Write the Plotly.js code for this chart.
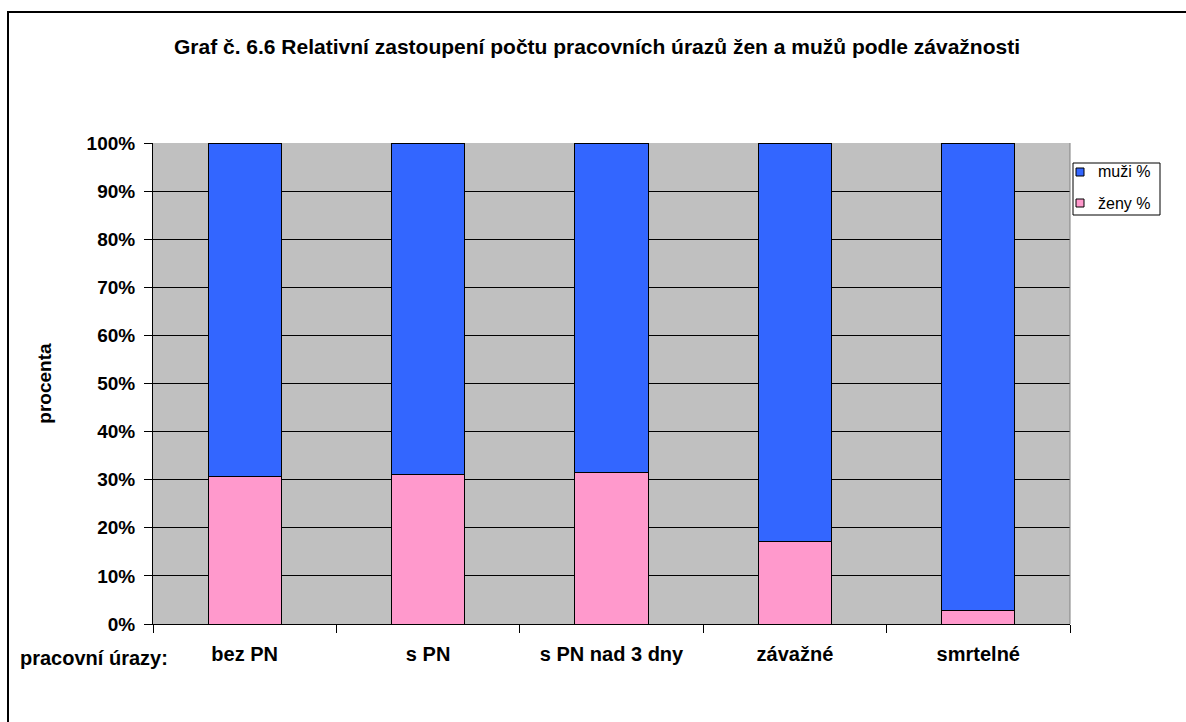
<!DOCTYPE html>
<html>
<head>
<meta charset="utf-8">
<script src="https://cdn.plot.ly/plotly-3.0.1.min.js"></script>
<style>
html,body{margin:0;padding:0;background:#fff;}
#wrap{position:relative;width:1186px;height:722px;}
#chart{width:1186px;height:722px;}
#bl{position:absolute;left:7px;top:11px;width:2px;height:711px;background:#000;}
#bt{position:absolute;left:7px;top:11px;width:1179px;height:2px;background:#000;}
</style>
</head>
<body>
<div id="wrap">
<div id="chart"></div>
<div id="bl"></div><div id="bt"></div>
</div>
<script>
const categories = ["bez PN", "s PN", "s PN nad 3 dny", "závažné", "smrtelné"];
const zenyPct = [30.6, 31.0, 31.4, 17.2, 2.9];
const muziPct = [69.4, 69.0, 68.6, 82.8, 97.1];
const seriesNames = ["ženy %", "muži %"];
const seriesColors = ["#FF99CC", "#3366FF"];
const yTickVals = [0,10,20,30,40,50,60,70,80,90,100];
const yTickText = ["0%","10%","20%","30%","40%","50%","60%","70%","80%","90%","100%"];

const FONT = "Liberation Sans, Arial, sans-serif";

// plot area in pixels
const PL = 153, PR = 1070, PT = 143, PB = 624;
const px = v => (v - PL) / (PR - PL);
const py = v => (PB - v) / (PB - PT);

const traces = [
  {type:"bar", name:seriesNames[0], x:categories, y:zenyPct,
   marker:{color:seriesColors[0], line:{color:"#000", width:1}}, hoverinfo:"none"},
  {type:"bar", name:seriesNames[1], x:categories, y:muziPct,
   marker:{color:seriesColors[1], line:{color:"#000", width:1}}, hoverinfo:"none"}
];

// manual legend (muži first, then ženy)
const legItems = [
  {name:seriesNames[1], color:seriesColors[1], cy:172},
  {name:seriesNames[0], color:seriesColors[0], cy:203}
];
const shapes = [
  {type:"line", xref:"paper", yref:"paper", x0:1, x1:1, y0:0, y1:1, line:{color:"#808080", width:1}},
  {type:"rect", xref:"paper", yref:"paper", x0:px(1073), x1:px(1160), y0:py(163), y1:py(215),
   fillcolor:"#fff", line:{color:"#000", width:1}}
];
const annotations = [
  {text:"<b>pracovní úrazy:</b>", xref:"paper", yref:"paper", x:px(18), y:0, xanchor:"left",
   yanchor:"middle", yshift:-34, showarrow:false, font:{family:FONT, size:20, color:"#000"}}
];
legItems.forEach(it => {
  shapes.push({type:"rect", xref:"paper", yref:"paper", x0:px(1076), x1:px(1084),
    y0:py(it.cy+4), y1:py(it.cy-4), fillcolor:it.color, line:{color:"#000", width:1}});
  annotations.push({text:it.name, xref:"paper", yref:"paper", x:px(1096), y:py(it.cy),
    xanchor:"left", yanchor:"middle", showarrow:false, font:{family:FONT, size:16, color:"#000"}});
});

const layout = {
  width:1186, height:722,
  paper_bgcolor:"rgba(0,0,0,0)",
  plot_bgcolor:"#C0C0C0",
  margin:{l:PL, r:1186-PR, t:PT, b:722-PB, pad:0},
  barmode:"stack",
  bargap:0.6,
  showlegend:false,
  font:{family:FONT, color:"#000"},
  title:{text:"<b>Graf č. 6.6 Relativní zastoupení počtu pracovních úrazů žen a mužů podle závažnosti</b>",
         font:{family:FONT, size:21, color:"#000"},
         x:597/1186, xref:"container", xanchor:"center", y:1-46.5/722, yref:"container", yanchor:"middle"},
  xaxis:{type:"category", showgrid:false, showline:true, linecolor:"#000", linewidth:1,
         ticks:"outside", ticklen:8, tickcolor:"#000", tickson:"boundaries",
         tickfont:{family:FONT, size:20, color:"#000", weight:"bold"},
         ticklabelstandoff:12, zeroline:false, fixedrange:true},
  yaxis:{range:[0,100], tickvals:yTickVals, ticktext:yTickText,
         showgrid:true, gridcolor:"#000", gridwidth:1,
         showline:true, linecolor:"#000", linewidth:1,
         ticks:"outside", ticklen:8, tickcolor:"#000",
         tickfont:{family:FONT, size:19, color:"#000", weight:"bold"},
         ticklabelstandoff:5,
         zeroline:false, fixedrange:true,
         title:{text:"<b>procenta</b>", font:{family:FONT, size:19, color:"#000"}, standoff:29}},
  annotations:annotations,
  shapes:shapes
};

Plotly.newPlot("chart", traces, layout, {displayModeBar:false, staticPlot:true});
</script>
</body>
</html>
